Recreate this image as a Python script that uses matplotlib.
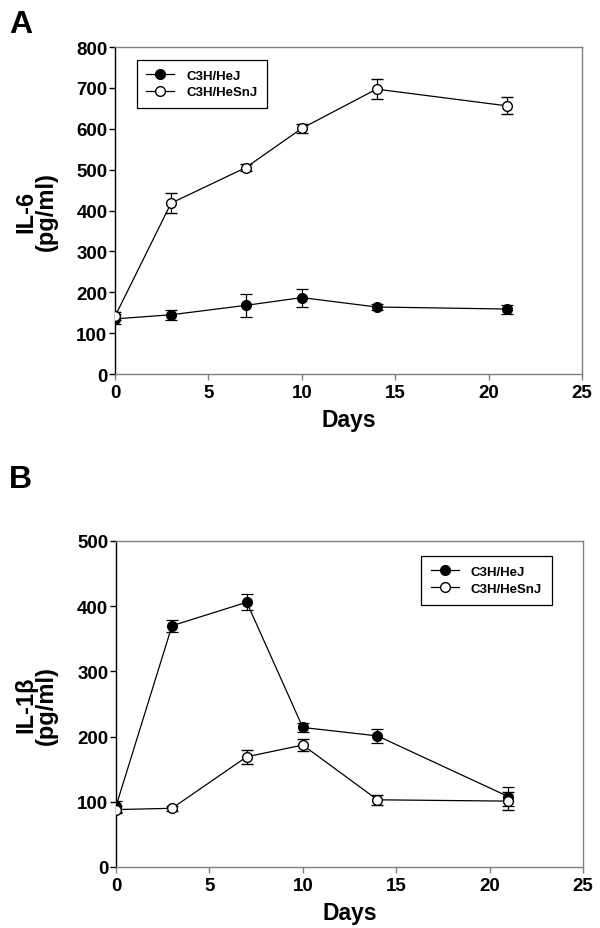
import matplotlib
matplotlib.use("Agg")
import matplotlib.pyplot as plt
from matplotlib.lines import Line2D

plt.rcParams['font.family'] = ['Liberation Sans', 'DejaVu Sans']
plt.rcParams['font.weight'] = 'bold'

days = [0, 3, 7, 10, 14, 21]

# Panel A: IL-6 (pg/ml)
il6_hej = [135, 145, 168, 187, 164, 159]
il6_hej_err = [12, 12, 29, 22, 8, 11]
il6_hesnj = [141, 418, 505, 601, 697, 656]
il6_hesnj_err = [10, 24, 9, 11, 24, 21]

# Panel B: IL-1beta (pg/ml)
il1b_hej = [93, 370, 406, 214, 201, 108]
il1b_hej_err = [8, 9, 12, 7, 11, 14]
il1b_hesnj = [88, 90, 169, 187, 103, 101]
il1b_hesnj_err = [5, 4, 11, 9, 8, 14]

series_names = ["C3H/HeJ", "C3H/HeSnJ"]

fig = plt.figure(figsize=(6.0, 9.29), dpi=100)
axA = fig.add_axes([0.1917, 0.5963, 0.7783, 0.352])
axB = fig.add_axes([0.1933, 0.0657, 0.7783, 0.3509])

gray = '#808080'

def draw(ax, hej, hej_e, hes, hes_e, ymax, ystep):
    ax.errorbar(days, hej, yerr=hej_e, color='black', lw=0.9, marker='o',
                ms=7, mfc='black', mec='black', capsize=4, elinewidth=0.9,
                capthick=0.9, zorder=3)
    ax.errorbar(days, hes, yerr=hes_e, color='black', lw=0.9, marker='o',
                ms=7, mfc='white', mec='black', mew=1.0, capsize=4,
                elinewidth=0.9, capthick=0.9, zorder=4)
    ax.set_xlim(0, 25)
    ax.set_ylim(0, ymax)
    ax.set_xticks(range(0, 26, 5))
    ax.set_yticks(range(0, ymax + 1, ystep))
    for s in ['top', 'right', 'bottom']:
        ax.spines[s].set_color(gray)
        ax.spines[s].set_linewidth(1.0)
    ax.spines['left'].set_color('black')
    ax.spines['left'].set_linewidth(1.0)
    ax.tick_params(axis='both', direction='out', length=4, width=1.0,
                   labelsize=13.5, pad=1.5)
    ax.tick_params(axis='x', color=gray, pad=3)
    for lab in ax.get_xticklabels() + ax.get_yticklabels():
        lab.set_fontweight('bold')
    ax.set_xlabel('Days', fontsize=16.5, fontweight='bold', labelpad=5)

draw(axA, il6_hej, il6_hej_err, il6_hesnj, il6_hesnj_err, 800, 100)
draw(axB, il1b_hej, il1b_hej_err, il1b_hesnj, il1b_hesnj_err, 500, 100)

handles = [
    Line2D([], [], color='black', lw=0.9, marker='o', ms=7, mfc='black', mec='black'),
    Line2D([], [], color='black', lw=0.9, marker='o', ms=7, mfc='white', mec='black'),
]
legA = axA.legend(handles, series_names, loc='upper left',
                  bbox_to_anchor=(0.032, 0.982), fancybox=False,
                  edgecolor='black', framealpha=1, prop={'weight': 'bold', 'size': 9.5},
                  handlelength=2.1, handletextpad=0.9, borderpad=0.75,
                  labelspacing=0.35)
legA.get_frame().set_linewidth(0.9)
legB = axB.legend(handles, series_names, loc='upper left',
                  bbox_to_anchor=(0.64, 0.975), fancybox=False,
                  edgecolor='black', framealpha=1, prop={'weight': 'bold', 'size': 9.5},
                  handlelength=2.1, handletextpad=0.9, borderpad=0.75,
                  labelspacing=0.35)
legB.get_frame().set_linewidth(0.9)

fig.text(0.06, 0.772, 'IL-6\n(pg/ml)', rotation=90, ha='center', va='center',
         fontsize=17, fontweight='bold', linespacing=0.9)
fig.text(0.06, 0.241, 'IL-1β\n(pg/ml)', rotation=90, ha='center', va='center',
         fontsize=17, fontweight='bold', linespacing=0.9)

fig.text(0.015, 0.973, 'A', fontsize=23, fontweight='bold', ha='left', va='center')
fig.text(0.015, 0.483, 'B', fontsize=23, fontweight='bold', ha='left', va='center')

fig.savefig('out.png', dpi=100)
